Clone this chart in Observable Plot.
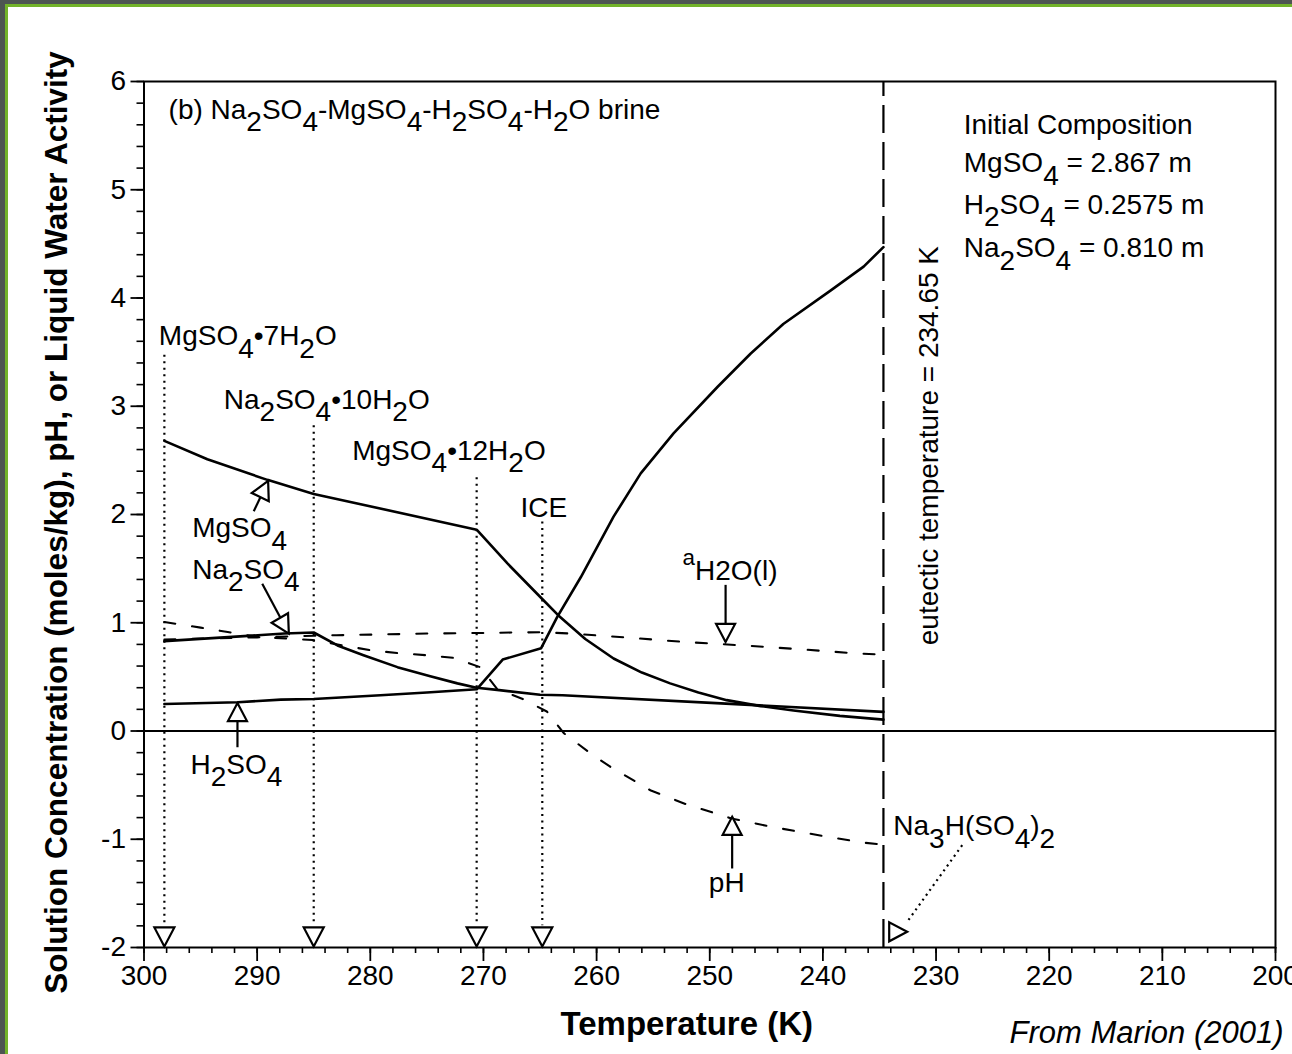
<!DOCTYPE html>
<html>
<head>
<meta charset="utf-8">
<script src="https://cdn.jsdelivr.net/npm/d3@7"></script>
<script src="https://cdn.jsdelivr.net/npm/@observablehq/plot@0.6"></script>
<style>
html, body { margin: 0; padding: 0; background: #fff; }
#wrap { position: relative; width: 1292px; height: 1054px; overflow: hidden; background: #fff; }
.bd { position: absolute; }
</style>
</head>
<body>
<div id="wrap">
  <div id="chart"></div>
  <div class="bd" style="left:0;top:0;width:1292px;height:4px;background:#4d5552"></div>
  <div class="bd" style="left:5px;top:4px;width:1287px;height:3px;background:#72b32a"></div>
  <div class="bd" style="left:0;top:0;width:5px;height:1054px;background:#4d5552"></div>
  <div class="bd" style="left:5px;top:4px;width:3px;height:1050px;background:#72b32a"></div>
</div>
<script>
// ---------- Data (temperature in K, concentration in mol/kg, pH, activity) ----------
const mgso4T = [298.2, 294.4, 289.1, 285.0, 270.6, 267.9, 265.0, 263.4, 261.0, 258.5, 256.0, 253.5, 251.0, 248.5, 245.5, 242.6, 238.5, 234.65];
const mgso4V = [2.68, 2.51, 2.32, 2.19, 1.86, 1.55, 1.24, 1.07, 0.85, 0.67, 0.54, 0.44, 0.355, 0.285, 0.23, 0.19, 0.14, 0.105];

const na2so4T = [298.2, 287.6, 285.0, 282.9, 280.6, 277.6, 274.7, 272.3, 270.6, 268.8, 265.0, 263.0, 249.0, 234.65];
const na2so4V = [0.83, 0.90, 0.91, 0.79, 0.70, 0.59, 0.505, 0.44, 0.40, 0.38, 0.335, 0.33, 0.255, 0.177];

const h2so4T = [298.2, 291.7, 287.9, 285.0, 279.1, 275.0, 270.6, 268.3, 264.9, 263.5, 261.4, 258.5, 256.1, 253.2, 249.3, 246.4, 243.5, 239.3, 236.4, 234.65];
const h2so4V = [0.25, 0.265, 0.29, 0.295, 0.33, 0.355, 0.385, 0.66, 0.765, 1.05, 1.42, 1.98, 2.38, 2.75, 3.18, 3.485, 3.76, 4.07, 4.29, 4.47];

const aH2OT = [298.2, 290.0, 285.0, 283.0, 280.0, 275.0, 270.0, 265.0, 262.3, 257.3, 252.3, 247.0, 242.0, 237.0, 234.65];
const aH2OV = [0.845, 0.865, 0.88, 0.885, 0.89, 0.90, 0.906, 0.913, 0.90, 0.863, 0.823, 0.79, 0.755, 0.716, 0.705];

const pHT = [298.2, 295.0, 292.6, 290.0, 285.1, 280.0, 277.6, 275.0, 272.6, 270.3, 268.8, 266.4, 264.4, 262.9, 260.5, 258.8, 255.2, 252.0, 248.0, 244.3, 240.0, 236.5, 234.65];
const pHV = [1.007, 0.955, 0.915, 0.87, 0.84, 0.746, 0.72, 0.70, 0.675, 0.59, 0.39, 0.29, 0.18, -0.02, -0.21, -0.33, -0.55, -0.68, -0.81, -0.89, -0.97, -1.03, -1.05];

// Eutectic and phase-boundary temperatures
const eutecticT = 234.65;
const phaseT = [298.2, 285.0, 270.6, 264.8];
const phaseTop = [3.47, 2.82, 2.34, 1.93];
const phaseLabel = ["MgSO_4•7H_2O", "Na_2SO_4•10H_2O", "MgSO_4•12H_2O", "ICE"];
const phaseLabelT = [298.69, 292.95, 281.6, 266.73];
const phaseLabelY = [3.562, 2.978, 2.507, 1.977];

// Curve labels with arrows
const curveLabel = ["MgSO_4", "Na_2SO_4", "H_2SO_4", "pH"];
const curveLabelT = [295.74, 295.74, 295.89, 250.08];
const curveLabelY = [1.792, 1.408, -0.393, -1.486];
const arrowFromT = [290.3, 289.55, 291.74, 248.6, 248.02];
const arrowFromY = [2.03, 1.36, -0.15, 1.35, -1.27];
const arrowToT = [289.03, 287.2, 291.74, 248.6, 248.02];
const arrowToY = [2.31, 0.90, 0.258, 0.823, -0.793];
const arrowAngle = [26, 150, 0, 180, 0];

// Na3H(SO4)2 eutectic solid
const na3Label = "Na_3H(SO_4)_2";
const na3LabelT = 233.78, na3LabelY = -0.962;
const na3LineT = [227.69, 232.55], na3LineY = [-1.055, -1.762];
const na3TipT = 232.55, na3TipY = -1.855;

// Water activity label
const aLabel = "^aH2O(l)";
const aLabelT = 252.4, aLabelY = 1.393;

// Texts
const title = "(b) Na_2SO_4-MgSO_4-H_2SO_4-H_2O brine";
const titleT = 297.83, titleY = 5.658;
const compLines = ["Initial Composition", "MgSO_4 = 2.867 m", "H_2SO_4 = 0.2575 m", "Na_2SO_4 = 0.810 m"];
const compT = 227.55;
const compY = [5.517, 5.163, 4.778, 4.378];
const eutecticLabel = "eutectic temperature = 234.65 K";
const eutecticLabelT = 229.87, eutecticLabelY = 0.792;
const xTicks = d3.range(300, 199, -10);
const xMinor = d3.range(300, 199, -2);
const yTicks = d3.range(-2, 7, 1);
const yMinor = d3.range(-10, 31).map(i => i / 5);
const xLabel = "Temperature (K)";
const yLabel = "Solution Concentration (moles/kg), pH, or Liquid Water Activity";
const credit = "From Marion (2001)";

// ---------- Helpers ----------
const rows = (T, V) => T.map((t, i) => ({t, v: V[i]}));
function tri(angle, L = 19, W = 10) {
  const a = angle * Math.PI / 180;
  const dx = Math.sin(a), dy = -Math.cos(a);
  const px = Math.cos(a), py = Math.sin(a);
  return {draw(ctx) {
    ctx.moveTo(0, 0);
    ctx.lineTo(-L * dx + W * px, -L * dy + W * py);
    ctx.lineTo(-L * dx - W * px, -L * dy - W * py);
    ctx.closePath();
  }};
}
const SOLID = {x: "t", y: "v", stroke: "black", strokeWidth: 2.6, strokeLinejoin: "round"};
const DASH = {x: "t", y: "v", stroke: "black", strokeWidth: 2.1, strokeDasharray: "11,17"};
const TRI = {r: 5, fill: "white", stroke: "black", strokeWidth: 2.2};
const LBL = {textAnchor: "start", lineAnchor: "bottom", fontSize: 28, fill: "black"};
const idx = n => d3.range(n);

const plot = Plot.plot({
  width: 1292,
  height: 1054,
  marginLeft: 143.5,
  marginRight: 17,
  marginTop: 81,
  marginBottom: 107,
  x: {domain: [300, 200]},
  y: {domain: [-2, 6]},
  style: {fontFamily: "'Liberation Sans', Arial, Helvetica, sans-serif", fontSize: "28px", background: "white", color: "black", overflow: "visible"},
  marks: [
    Plot.ruleY([0], {stroke: "black", strokeWidth: 2}),
    Plot.ruleX([eutecticT], {y1: -2, y2: 6, stroke: "black", strokeWidth: 2.2, strokeDasharray: "28,9"}),
    Plot.ruleX(idx(phaseT.length), {x: i => phaseT[i], y1: i => phaseTop[i], y2: -1.8, stroke: "black", strokeWidth: 2.2, strokeDasharray: "2,4.5"}),
    Plot.line(rows(mgso4T, mgso4V), SOLID),
    Plot.line(rows(na2so4T, na2so4V), SOLID),
    Plot.line(rows(h2so4T, h2so4V), SOLID),
    Plot.line(rows(aH2OT, aH2OV), DASH),
    Plot.line(rows(pHT, pHV), DASH),
    Plot.link(idx(arrowFromT.length), {x1: i => arrowFromT[i], y1: i => arrowFromY[i], x2: i => arrowToT[i], y2: i => arrowToY[i], stroke: "black", strokeWidth: 2.2}),
    ...arrowToT.map((t, i) => Plot.dot([i], {x: j => arrowToT[j], y: j => arrowToY[j], symbol: tri(arrowAngle[i], 18, 9.5), ...TRI})),
    Plot.dot(phaseT, {x: d => d, y: -1.99, symbol: tri(180, 19, 10), ...TRI}),
    Plot.link([0], {x1: na3LineT[0], y1: na3LineY[0], x2: na3LineT[1], y2: na3LineY[1], stroke: "black", strokeWidth: 2.2, strokeDasharray: "2,4"}),
    Plot.dot([0], {x: na3TipT, y: na3TipY, symbol: tri(90, 18, 9.5), ...TRI}),
    Plot.text([title], {x: titleT, y: titleY, text: d => d, ...LBL}),
    Plot.text(compLines, {x: compT, y: (d, i) => compY[i], text: d => d, ...LBL}),
    Plot.text(phaseLabel, {x: (d, i) => phaseLabelT[i], y: (d, i) => phaseLabelY[i], text: d => d, ...LBL}),
    Plot.text(curveLabel, {x: (d, i) => curveLabelT[i], y: (d, i) => curveLabelY[i], text: d => d, ...LBL}),
    Plot.text([na3Label], {x: na3LabelT, y: na3LabelY, text: d => d, ...LBL}),
    Plot.text([aLabel], {x: aLabelT, y: aLabelY, text: d => d, ...LBL}),
    Plot.text([eutecticLabel], {x: eutecticLabelT, y: eutecticLabelY, text: d => d, rotate: -90, ...LBL}),
    Plot.axisX(xTicks, {tickSize: 14, tickPadding: 4, fontSize: 28, strokeWidth: 1.8, tickFormat: d => String(d), label: null}),
    Plot.axisX(xMinor, {tickSize: 6, strokeWidth: 1.6, tickFormat: () => "", label: null}),
    Plot.axisY(yTicks, {tickSize: 13, tickPadding: 5, fontSize: 28, strokeWidth: 1.8, tickFormat: d => String(d), label: null}),
    Plot.axisY(yMinor, {tickSize: 7, strokeWidth: 1.6, tickFormat: () => "", label: null}),
    Plot.frame({stroke: "black", strokeWidth: 2}),
    Plot.text([yLabel], {frameAnchor: "left", rotate: -90, dx: -77, dy: 8, text: d => d, textAnchor: "middle", lineAnchor: "bottom", fontSize: 31.5, fontWeight: "bold", fill: "black"}),
    Plot.text([xLabel], {frameAnchor: "bottom", dx: -23, dy: 87, text: d => d, textAnchor: "middle", lineAnchor: "bottom", fontSize: 33, fontWeight: "bold", fill: "black"}),
    Plot.text([credit], {frameAnchor: "bottom-right", dx: 8, dy: 95, text: d => d, textAnchor: "end", lineAnchor: "bottom", fontSize: 31, fontStyle: "italic", fill: "black"})
  ]
});

document.getElementById("chart").append(plot);

// Convert _x / ^x markup into real sub/superscript tspans
function richify(svg) {
  const NS = "http://www.w3.org/2000/svg";
  svg.querySelectorAll("text").forEach(t => {
    if (t.children.length) return;
    const s = t.textContent;
    if (!/[_^]/.test(s)) return;
    const fs = parseFloat(getComputedStyle(t).fontSize) || 28;
    t.textContent = "";
    const re = /([_^])(\{[^}]*\}|.)|([^_^]+)/g;
    let m, shift = 0;
    while ((m = re.exec(s))) {
      const span = document.createElementNS(NS, "tspan");
      let target = 0, content, size = fs;
      if (m[3] !== undefined) { content = m[3]; }
      else {
        content = m[2].replace(/^\{|\}$/g, "");
        if (m[1] === "_") { target = 0.45 * fs; }
        else { target = -0.55 * fs; size = 0.8 * fs; }
      }
      const dy = target - shift;
      if (dy) span.setAttribute("dy", dy);
      if (size !== fs) span.setAttribute("font-size", size);
      span.textContent = content;
      t.appendChild(span);
      shift = target;
    }
  });
}
richify(plot);
</script>
</body>
</html>
